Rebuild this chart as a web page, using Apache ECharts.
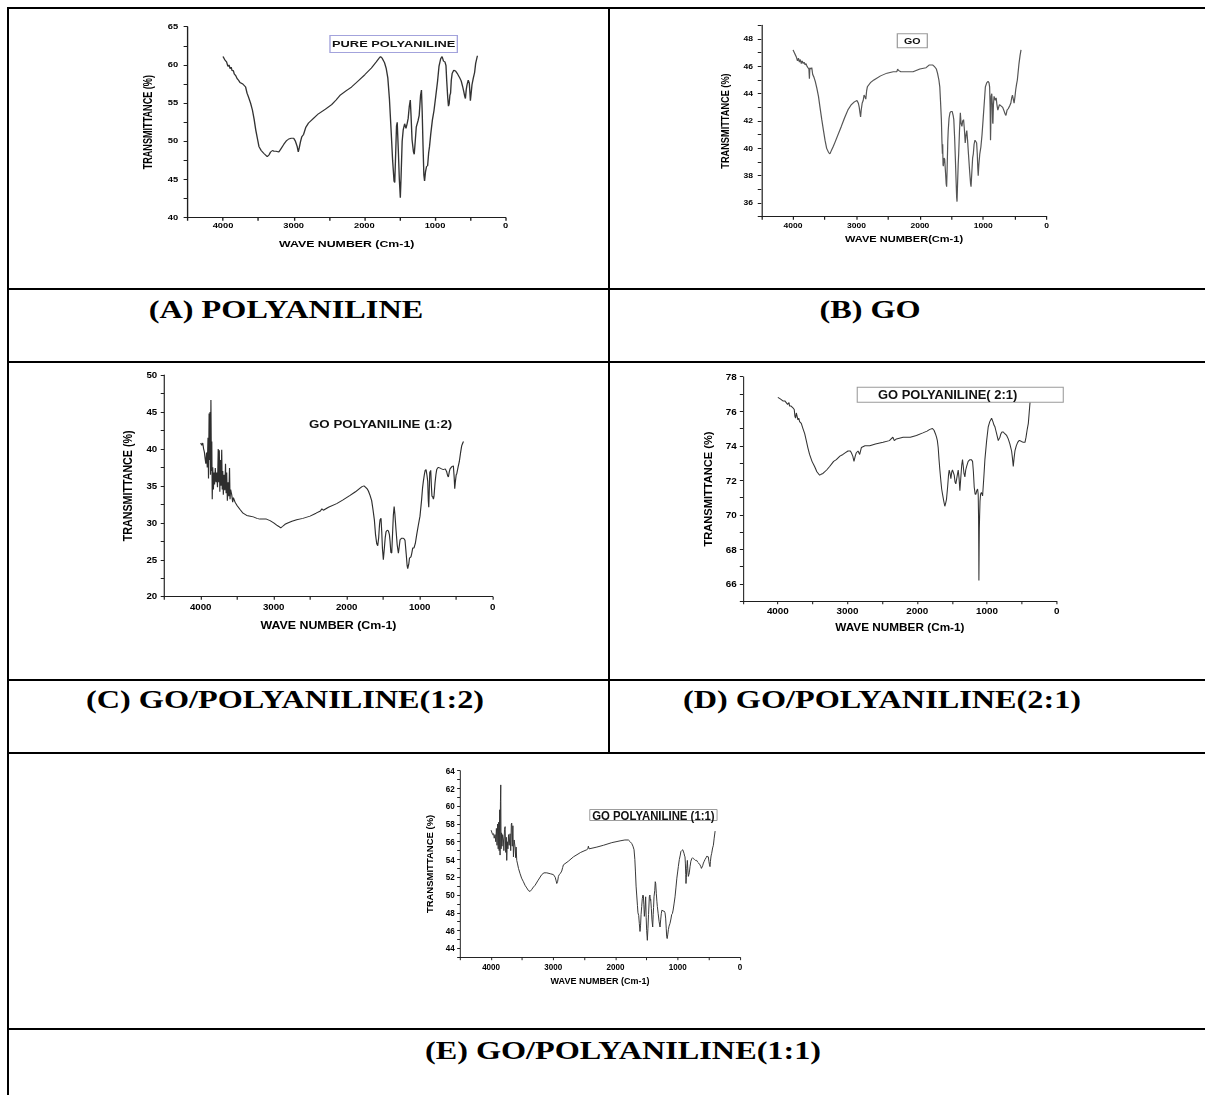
<!DOCTYPE html>
<html>
<head>
<meta charset="utf-8">
<title>FTIR spectra of polyaniline, GO and GO/polyaniline composites</title>
<script src="https://cdn.jsdelivr.net/npm/echarts@6/dist/echarts.min.js"></script>
<style>
  html, body { margin: 0; padding: 0; background: #fff; }
  #page { position: relative; width: 1205px; height: 1095px; overflow: hidden; background: #fff; }
  .rule { position: absolute; background: #000; }
  .cap {
    position: absolute; white-space: nowrap; line-height: 1; color: #000;
    font-family: "Liberation Serif", "Times New Roman", serif; font-weight: bold; font-size: 26px;
    transform: translate(-50%, -50%) scaleX(1.24);
  }
  .plot { position: absolute; transform-origin: 0 0; filter: blur(0.35px); }
</style>
</head>
<body>
<div id="page">
  <!-- table rules -->
  <div class="rule" style="left:7px;top:7px;width:1198px;height:2px"></div>
  <div class="rule" style="left:7px;top:7px;width:2px;height:1088px"></div>
  <div class="rule" style="left:608px;top:7px;width:2px;height:746px"></div>
  <div class="rule" style="left:7px;top:288px;width:1198px;height:2px"></div>
  <div class="rule" style="left:7px;top:361px;width:1198px;height:2px"></div>
  <div class="rule" style="left:7px;top:679px;width:1198px;height:2px"></div>
  <div class="rule" style="left:7px;top:752px;width:1198px;height:2px"></div>
  <div class="rule" style="left:7px;top:1028px;width:1198px;height:2px"></div>

  <!-- captions -->
  <div class="cap" style="left:286px;top:310px">(A) POLYANILINE</div>
  <div class="cap" style="left:870px;top:310px">(B) GO</div>
  <div class="cap" style="left:285px;top:700px">(C) GO/POLYANILINE(1:2)</div>
  <div class="cap" style="left:882px;top:700px">(D) GO/POLYANILINE(2:1)</div>
  <div class="cap" style="left:623px;top:1051px">(E) GO/POLYANILINE(1:1)</div>

  <div class="plot" id="pA"></div>
  <div class="plot" id="pB"></div>
  <div class="plot" id="pC"></div>
  <div class="plot" id="pD"></div>
  <div class="plot" id="pE"></div>
</div>

<script>
// Wave number axis (cm-1), shared by all spectra
const waveRange = [0, 4500];
const waveTickLabels = [4000, 3000, 2000, 1000, 0];

// Transmittance (%) ranges and labelled ticks of each panel
const rangeA = [40, 65];  const ticksA = [40, 45, 50, 55, 60, 65];
const rangeB = [35, 49];  const ticksB = [36, 38, 40, 42, 44, 46, 48];
const rangeC = [20, 50];  const ticksC = [20, 25, 30, 35, 40, 45, 50];
const rangeD = [65, 78];  const ticksD = [66, 68, 70, 72, 74, 76, 78];
const rangeE = [43, 64];  const ticksE = [44, 46, 48, 50, 52, 54, 56, 58, 60, 62, 64];

// Spectra: [wave number, transmittance %]
const purePani = [
  [4000,61.1],[3970,60.6],[3950,60.4],[3930,59.8],[3915,60.0],[3900,59.5],[3885,59.7],[3870,59.2],
  [3855,59.3],[3840,58.8],[3820,58.6],[3800,58.2],[3780,58.0],[3760,57.7],[3740,57.6],[3720,57.5],
  [3700,57.3],[3680,57.1],[3660,56.3],[3640,55.8],[3610,55.0],[3584,54.1],[3560,52.9],[3537,51.5],
  [3510,50.2],[3491,49.3],[3460,48.8],[3421,48.4],[3374,48.0],[3350,48.2],[3327,48.6],[3300,48.8],
  [3280,48.7],[3250,48.7],[3210,48.6],[3175,49.1],[3140,49.6],[3100,50.1],[3070,50.3],[3035,50.4],
  [3000,50.4],[2975,50.0],[2950,49.3],[2935,48.6],[2920,49.2],[2905,49.9],[2885,50.6],[2860,50.9],
  [2830,51.8],[2790,52.4],[2720,53.0],[2650,53.6],[2550,54.2],[2463,54.8],[2400,55.4],[2346,56.0],
  [2260,56.6],[2182,57.1],[2100,57.8],[1995,58.7],[1900,59.6],[1830,60.4],[1790,60.9],[1771,61.1],
  [1750,60.9],[1715,60.3],[1690,59.5],[1668,58.3],[1645,55.5],[1622,51.5],[1600,47.5],[1580,44.8],
  [1570,44.6],[1560,47.5],[1545,52.0],[1535,52.5],[1520,49.0],[1505,45.0],[1491,42.6],[1480,45.5],
  [1465,50.0],[1450,51.5],[1430,52.3],[1411,51.7],[1395,52.3],[1380,53.0],[1365,54.5],[1350,55.4],
  [1340,53.5],[1325,50.2],[1305,48.6],[1294,48.3],[1280,50.0],[1265,51.9],[1240,52.7],[1224,53.4],
  [1205,56.0],[1192,56.7],[1182,54.0],[1170,49.5],[1158,45.6],[1148,44.8],[1135,46.0],[1120,46.7],
  [1105,46.8],[1090,48.5],[1078,49.3],[1060,51.0],[1037,52.8],[1015,54.0],[991,55.8],[965,57.8],
  [944,59.8],[920,60.8],[900,61.1],[880,60.5],[860,60.4],[845,59.9],[835,58.0],[820,55.7],
  [810,54.6],[800,54.9],[790,56.0],[780,56.3],[770,58.0],[757,58.9],[735,59.3],[710,59.2],
  [680,58.8],[650,58.3],[630,57.9],[610,57.2],[593,56.5],[580,55.9],[570,55.6],[558,56.8],
  [547,57.4],[530,58.0],[515,57.6],[505,56.2],[500,55.3],[492,56.0],[477,57.4],[460,58.2],
  [440,59.0],[425,60.2],[410,60.8],[400,61.2]
];

const grapheneOxide = [
  [4000,47.2],[3970,46.9],[3950,46.7],[3930,46.4],[3915,46.6],[3900,46.3],[3885,46.5],[3870,46.2],
  [3855,46.4],[3840,46.2],[3825,46.3],[3810,46.1],[3795,46.2],[3780,46.0],[3765,45.9],[3750,45.8],
  [3742,45.1],[3735,45.9],[3720,45.8],[3705,45.9],[3690,45.4],[3670,45.2],[3650,44.9],[3625,44.4],
  [3599,43.8],[3575,43.0],[3547,42.1],[3520,41.3],[3496,40.6],[3470,40.0],[3440,39.7],[3419,39.6],
  [3400,39.8],[3370,40.1],[3342,40.4],[3300,40.9],[3239,41.6],[3190,42.2],[3136,42.8],[3080,43.2],
  [3033,43.4],[2992,43.5],[2970,43.3],[2956,43.0],[2945,42.6],[2935,42.3],[2925,42.8],[2910,43.3],
  [2894,43.5],[2880,43.9],[2869,43.8],[2853,43.6],[2840,44.2],[2828,44.5],[2780,44.8],[2725,45.0],
  [2620,45.3],[2519,45.5],[2420,45.6],[2365,45.6],[2350,45.8],[2339,45.7],[2300,45.6],[2200,45.6],
  [2108,45.6],[2000,45.8],[1902,45.9],[1850,46.1],[1800,46.1],[1774,46.0],[1740,45.8],[1722,45.5],
  [1700,45.0],[1686,44.5],[1675,43.5],[1661,42.1],[1652,40.5],[1645,39.6],[1640,40.3],[1635,38.8],
  [1630,38.7],[1620,39.3],[1609,39.2],[1595,38.2],[1585,37.4],[1578,37.2],[1570,38.5],[1560,40.5],
  [1553,41.3],[1540,42.2],[1525,42.6],[1510,42.7],[1491,42.7],[1475,42.4],[1465,42.1],[1452,40.8],
  [1440,39.2],[1428,37.5],[1420,36.4],[1414,36.1],[1405,37.5],[1396,38.8],[1388,39.6],[1375,41.3],
  [1362,42.6],[1350,41.8],[1337,41.6],[1325,42.0],[1311,42.1],[1298,41.4],[1285,40.4],[1272,41.0],
  [1260,41.3],[1248,40.6],[1234,39.6],[1215,38.3],[1200,37.4],[1193,37.2],[1180,38.3],[1168,39.3],
  [1157,39.6],[1145,40.3],[1131,40.6],[1118,40.5],[1105,40.4],[1095,39.6],[1086,38.5],[1080,38.0],
  [1070,38.8],[1055,39.6],[1038,40.1],[1020,41.0],[1003,42.1],[985,43.3],[967,44.5],[945,44.8],
  [925,44.9],[910,44.8],[900,44.5],[892,43.0],[886,40.6],[882,41.5],[876,43.8],[866,44.0],
  [858,43.2],[852,41.9],[848,41.8],[840,43.2],[830,43.8],[822,43.8],[810,43.5],[797,43.7],
  [785,43.2],[771,42.8],[758,43.0],[745,43.2],[720,43.1],[694,43.0],[670,42.7],[655,42.5],
  [643,42.4],[625,42.8],[607,42.9],[585,43.1],[566,43.3],[552,43.7],[540,43.9],[527,43.6],
  [514,43.3],[500,43.8],[488,44.3],[475,44.7],[463,45.0],[450,45.6],[437,46.2],[420,46.8],[405,47.2]
];

const goPani12 = [
  [4000,40.8],[3985,40.5],[3972,40.8],[3960,40.0],[3950,39.6],[3941,38.8],[3930,38.0],[3920,39.5],
  [3910,37.5],[3900,41.5],[3893,36.0],[3885,44.8],[3878,38.5],[3872,45.0],[3866,36.5],[3860,46.6],
  [3853,37.0],[3848,41.0],[3842,33.2],[3835,37.5],[3826,34.5],[3818,36.8],[3810,35.2],[3800,37.4],
  [3790,35.5],[3780,36.8],[3770,34.8],[3760,40.0],[3752,35.5],[3745,39.8],[3738,34.2],[3730,38.5],
  [3722,35.0],[3712,39.9],[3705,34.5],[3698,37.0],[3690,33.8],[3680,36.5],[3670,34.4],[3660,38.0],
  [3652,34.0],[3644,36.8],[3635,33.0],[3625,35.5],[3615,33.6],[3605,37.4],[3598,33.2],[3590,34.5],
  [3575,33.8],[3562,32.8],[3552,33.4],[3530,32.8],[3500,32.3],[3461,31.8],[3420,31.3],[3370,31.0],
  [3320,30.9],[3279,30.8],[3230,30.6],[3190,30.5],[3141,30.5],[3100,30.5],[3050,30.3],[3000,30.0],
  [2959,29.7],[2930,29.5],[2904,29.3],[2880,29.5],[2845,29.8],[2800,30.0],[2750,30.2],[2685,30.4],
  [2600,30.6],[2502,30.9],[2420,31.3],[2360,31.6],[2340,31.9],[2320,31.7],[2250,32.1],[2137,32.6],
  [2050,33.1],[1954,33.7],[1880,34.2],[1817,34.7],[1790,34.9],[1763,35.0],[1740,34.8],[1720,34.6],
  [1703,34.3],[1680,33.7],[1658,33.0],[1640,31.8],[1621,30.4],[1605,28.4],[1589,27.2],[1575,26.9],
  [1562,28.0],[1550,29.8],[1543,30.4],[1530,30.6],[1520,28.8],[1510,26.5],[1498,25.0],[1485,26.5],
  [1472,28.0],[1461,28.8],[1445,29.0],[1429,28.9],[1415,28.4],[1406,27.5],[1395,26.0],[1383,25.9],
  [1372,28.5],[1361,31.0],[1350,32.2],[1340,31.2],[1324,29.0],[1308,27.0],[1292,25.9],[1280,26.8],
  [1269,27.7],[1250,27.9],[1224,27.9],[1210,27.8],[1201,27.6],[1185,25.8],[1172,24.2],[1164,23.8],
  [1150,24.4],[1140,25.2],[1132,25.3],[1120,25.4],[1110,25.8],[1095,26.6],[1078,26.6],[1060,27.2],
  [1041,28.4],[1020,29.6],[996,30.9],[975,33.0],[960,34.8],[950,35.6],[935,36.6],[925,37.1],
  [913,37.2],[900,36.4],[890,35.6],[882,33.0],[876,32.1],[870,34.0],[862,36.8],[849,37.1],
  [840,35.0],[832,33.6],[822,33.5],[812,33.2],[804,33.6],[790,35.4],[778,36.5],[767,37.2],
  [755,37.4],[744,37.5],[720,37.4],[700,37.3],[676,37.2],[650,37.3],[630,36.9],[618,36.4],
  [607,36.2],[595,36.9],[584,37.3],[560,37.6],[539,37.7],[528,36.2],[520,34.6],[512,35.5],
  [500,36.5],[493,36.6],[475,37.5],[457,38.3],[440,39.5],[425,40.4],[410,40.8],[400,41.0]
];

const goPani21 = [
  [4000,76.8],[3960,76.7],[3928,76.6],[3900,76.6],[3880,76.5],[3860,76.4],[3840,76.5],[3832,76.3],
  [3810,76.3],[3784,76.2],[3765,76.1],[3755,75.7],[3746,75.6],[3735,75.9],[3712,75.5],[3700,75.6],
  [3688,75.4],[3664,75.3],[3640,75.0],[3615,74.7],[3592,74.3],[3570,73.9],[3545,73.5],[3510,73.1],
  [3473,72.8],[3440,72.5],[3401,72.3],[3380,72.35],[3353,72.4],[3300,72.6],[3257,72.8],[3200,73.1],
  [3161,73.2],[3110,73.4],[3066,73.5],[3030,73.6],[2994,73.7],[2960,73.7],[2946,73.6],[2925,73.4],
  [2908,73.1],[2890,73.4],[2874,73.6],[2850,73.7],[2826,73.5],[2802,73.9],[2750,74.0],[2682,74.0],
  [2600,74.1],[2491,74.2],[2400,74.3],[2350,74.5],[2330,74.3],[2299,74.4],[2203,74.5],[2100,74.5],
  [2012,74.6],[1920,74.75],[1860,74.85],[1820,74.95],[1782,75.0],[1760,74.9],[1740,74.7],[1724,74.5],
  [1712,74.3],[1700,73.9],[1688,73.2],[1676,72.6],[1660,71.9],[1650,71.5],[1638,71.2],[1620,70.8],
  [1605,70.5],[1592,70.7],[1581,70.9],[1565,71.6],[1552,72.3],[1542,72.6],[1530,72.4],[1518,72.1],
  [1505,72.5],[1495,72.6],[1485,72.6],[1470,72.3],[1458,71.9],[1447,71.8],[1430,72.2],[1413,72.6],
  [1400,72.1],[1389,71.4],[1375,72.2],[1362,72.9],[1351,73.2],[1340,72.8],[1330,72.4],[1317,72.2],
  [1305,72.6],[1293,72.8],[1270,73.1],[1245,73.2],[1225,73.2],[1207,73.1],[1195,72.5],[1183,71.6],
  [1170,71.2],[1159,71.2],[1147,71.4],[1135,71.5],[1126,71.2],[1121,69.9],[1118,68.0],[1116,66.2],
  [1113,67.8],[1110,69.2],[1106,69.9],[1100,70.8],[1092,71.2],[1080,71.3],[1063,71.1],[1045,72.2],
  [1030,73.2],[1005,74.3],[982,75.1],[960,75.4],[934,75.6],[915,75.4],[900,75.2],[886,75.1],
  [874,74.9],[862,74.7],[850,74.5],[838,74.3],[826,74.4],[814,74.5],[800,74.7],[785,74.8],
  [766,74.8],[745,74.7],[718,74.6],[695,74.4],[671,74.1],[659,73.9],[647,73.7],[635,73.3],
  [623,72.8],[611,73.3],[599,73.7],[580,74.0],[560,74.2],[540,74.3],[527,74.3],[505,74.25],
  [479,74.2],[455,74.2],[440,74.5],[425,74.9],[407,75.3],[395,75.9],[385,76.4],[375,76.8]
];

const goPani11 = [
  [4000,57.3],[3990,57.1],[3975,56.8],[3960,56.9],[3950,56.4],[3936,56.8],[3925,56.0],[3915,57.5],
  [3905,55.6],[3895,58.0],[3886,55.2],[3878,58.2],[3870,55.0],[3862,59.6],[3856,54.5],[3850,60.5],
  [3845,62.4],[3840,55.2],[3832,57.0],[3825,55.5],[3815,56.8],[3802,56.2],[3795,55.0],[3785,57.4],
  [3775,57.7],[3765,54.8],[3755,56.5],[3749,53.9],[3740,56.0],[3730,55.2],[3720,56.8],[3710,55.6],
  [3695,56.9],[3685,55.0],[3675,58.0],[3668,58.1],[3660,55.5],[3650,57.8],[3641,54.3],[3630,56.2],
  [3615,55.4],[3605,54.2],[3598,55.4],[3588,53.9],[3575,53.5],[3560,53.0],[3534,52.4],[3510,51.9],
  [3481,51.5],[3455,51.1],[3427,50.8],[3400,50.5],[3374,50.4],[3350,50.6],[3320,50.9],[3293,51.1],
  [3250,51.6],[3186,52.3],[3150,52.5],[3106,52.5],[3050,52.4],[2999,52.3],[2970,52.0],[2955,51.6],
  [2945,51.3],[2932,51.5],[2918,52.1],[2905,52.3],[2890,52.4],[2865,52.7],[2850,53.1],[2838,53.4],
  [2760,53.8],[2677,54.3],[2560,54.8],[2463,55.1],[2445,55.2],[2437,55.5],[2425,55.2],[2300,55.4],
  [2196,55.6],[2060,55.9],[1928,56.1],[1850,56.2],[1794,56.2],[1765,56.0],[1740,55.8],[1720,55.5],
  [1703,55.1],[1690,54.0],[1680,52.6],[1670,51.0],[1660,50.0],[1648,48.8],[1640,48.0],[1628,47.7],
  [1618,46.8],[1607,45.9],[1598,46.6],[1590,47.8],[1580,48.7],[1570,49.6],[1560,50.0],[1553,49.9],
  [1545,48.9],[1537,47.6],[1527,48.4],[1516,49.8],[1508,47.5],[1500,46.0],[1489,44.9],[1480,46.2],
  [1470,47.8],[1457,49.8],[1448,50.0],[1440,49.4],[1435,49.5],[1425,48.5],[1415,47.2],[1403,46.4],
  [1395,47.8],[1389,48.6],[1382,49.8],[1370,50.5],[1362,51.5],[1355,51.3],[1345,50.2],[1336,49.3],
  [1328,48.7],[1315,47.9],[1300,47.0],[1285,46.4],[1275,47.2],[1265,47.9],[1255,48.3],[1248,48.3],
  [1235,48.2],[1220,48.2],[1205,48.0],[1195,47.4],[1185,46.2],[1178,45.3],[1170,45.1],[1160,45.6],
  [1151,46.1],[1140,46.5],[1125,46.8],[1110,47.3],[1098,47.8],[1087,47.9],[1075,48.3],[1060,49.0],
  [1044,49.8],[1030,50.8],[1015,51.9],[1000,52.7],[991,53.2],[975,54.0],[960,54.5],[950,54.9],
  [937,55.0],[920,55.1],[910,55.1],[900,54.7],[890,54.4],[884,54.3],[878,53.6],[872,52.3],
  [868,51.3],[862,52.0],[856,53.0],[846,53.9],[838,52.8],[830,52.1],[822,52.3],[815,52.5],
  [803,53.2],[790,53.8],[775,54.1],[762,54.2],[750,54.1],[730,54.0],[715,53.9],[696,53.9],
  [680,53.7],[665,53.6],[655,53.5],[643,53.4],[630,53.2],[620,53.0],[611,53.0],[600,53.3],
  [588,53.6],[575,53.8],[562,54.0],[545,54.2],[530,54.4],[520,54.3],[509,54.3],[500,53.8],
  [490,53.4],[482,53.2],[475,53.8],[465,54.4],[455,54.7],[440,55.3],[428,55.6],[415,56.4],[400,57.2]
];

const FONT = '"Liberation Sans", Arial, Helvetica, sans-serif';

// Each spectrum sits in its own box; the drawing is stretched sideways by `stretch`.
function drawPanel(p) {
  const el = document.getElementById(p.id);
  const s = p.stretch;
  const w = p.box[2] / s, h = p.box[3];
  el.style.left = p.box[0] + 'px';
  el.style.top = p.box[1] + 'px';
  el.style.width = w + 'px';
  el.style.height = h + 'px';
  el.style.transform = 'scaleX(' + s + ')';

  const gx = (p.plot[0] - p.box[0]) / s;
  const gw = (p.plot[1] - p.plot[0]) / s;
  const gy = p.plot[2] - p.box[1];
  const gh = p.plot[3] - p.plot[2];
  const majorY = p.yTicks[1] - p.yTicks[0];

  const axisColor = '#1e1e1e';
  const textColor = '#000';
  const chart = echarts.init(el, null, { renderer: 'svg', width: w, height: h });
  chart.setOption({
    animation: false,
    title: {
      text: p.key.text,
      left: (p.key.x - p.box[0]) / s,
      top: p.key.y - p.box[1],
      padding: p.key.padding,
      borderColor: p.key.border || 'transparent',
      borderWidth: p.key.border ? 1 : 0,
      backgroundColor: p.key.border ? '#fff' : 'transparent',
      textStyle: { fontFamily: FONT, fontWeight: 'bold', fontSize: p.key.size, color: '#111' }
    },
    grid: { left: gx, top: gy, width: gw, height: gh, containLabel: false },
    xAxis: {
      type: 'value', inverse: true,
      min: waveRange[0], max: waveRange[1], interval: 500,
      name: p.xName, nameLocation: 'middle', nameGap: p.xGap,
      nameTextStyle: { fontFamily: FONT, fontWeight: 'bold', fontSize: p.titleSize, color: textColor },
      axisLine: { show: true, onZero: false, lineStyle: { color: axisColor, width: 1 } },
      axisTick: { show: true, inside: false, length: 3, lineStyle: { color: axisColor, width: 1 } },
      axisLabel: {
        margin: p.xMargin, fontFamily: FONT, fontWeight: 'bold', fontSize: p.tickSize, color: textColor,
        formatter: v => (waveTickLabels.indexOf(v) >= 0 ? String(v) : '')
      },
      splitLine: { show: false }
    },
    yAxis: {
      type: 'value',
      min: p.yRange[0], max: p.yRange[1], interval: majorY / 2,
      name: 'TRANSMITTANCE (%)', nameLocation: 'middle', nameGap: p.yGap, nameRotate: 90,
      nameTextStyle: { fontFamily: FONT, fontWeight: 'bold', fontSize: p.titleSize, color: textColor },
      axisLine: { show: true, onZero: false, lineStyle: { color: axisColor, width: 1 } },
      axisTick: { show: true, inside: false, length: 3, lineStyle: { color: axisColor, width: 1 } },
      axisLabel: {
        margin: p.yMargin, fontFamily: FONT, fontWeight: 'bold', fontSize: p.tickSize, color: textColor,
        formatter: v => (p.yTicks.indexOf(v) >= 0 ? String(v) : '')
      },
      splitLine: { show: false }
    },
    series: [{
      type: 'line', data: p.data, showSymbol: false, symbol: 'none', silent: true,
      lineStyle: { color: p.color, width: 1 }
    }]
  });
}

drawPanel({
  id: 'pA', box: [130, 15, 400, 245], stretch: 1.355, plot: [184.5, 505.7, 26.7, 217.7],
  yRange: rangeA, yTicks: ticksA, data: purePani, color: '#333333',
  xName: 'WAVE NUMBER (Cm-1)', tickSize: 6.9, titleSize: 9.1, xMargin: 5, xGap: 21, yMargin: 7, yGap: 20,
  key: { text: 'PURE POLYANILINE', x: 329.3, y: 35, size: 9.5, padding: [4, 2], border: '#a3a3dc' }
});

drawPanel({
  id: 'pB', box: [710, 15, 360, 245], stretch: 1.2, plot: [755, 1046.7, 25.3, 216.7],
  yRange: rangeB, yTicks: ticksB, data: grapheneOxide, color: '#555555',
  xName: 'WAVE NUMBER(Cm-1)', tickSize: 7.1, titleSize: 9.2, xMargin: 6, xGap: 17, yMargin: 7, yGap: 20.5,
  key: { text: 'GO', x: 896.7, y: 33.3, size: 8.9, padding: [3, 6], border: '#9a9a9a' }
});

drawPanel({
  id: 'pC', box: [100, 365, 420, 285], stretch: 1.158, plot: [164.2, 492.7, 375, 596.7],
  yRange: rangeC, yTicks: ticksC, data: goPani12, color: '#2e2e2e',
  xName: 'WAVE NUMBER (Cm-1)', tickSize: 8.4, titleSize: 10.7, xMargin: 7, xGap: 23, yMargin: 6, yGap: 22.5,
  key: { text: 'GO POLYANILINE (1:2)', x: 309, y: 418, size: 11.5, padding: 0 }
});

drawPanel({
  id: 'pD', box: [690, 365, 400, 285], stretch: 1.062, plot: [743, 1056.7, 376.7, 601.3],
  yRange: rangeD, yTicks: ticksD, data: goPani21, color: '#333333',
  xName: 'WAVE NUMBER (Cm-1)', tickSize: 9.3, titleSize: 11.1, xMargin: 5, xGap: 20, yMargin: 6, yGap: 25,
  key: { text: 'GO POLYANILINE( 2:1)', x: 856.7, y: 386.7, size: 12.2, padding: [2, 44, 2, 20], border: '#9a9a9a' }
});

drawPanel({
  id: 'pE', box: [400, 755, 360, 245], stretch: 0.95, plot: [460, 740, 770.7, 957.2],
  yRange: rangeE, yTicks: ticksE, data: goPani11, color: '#333333',
  xName: 'WAVE NUMBER (Cm-1)', tickSize: 8.5, titleSize: 9.5, xMargin: 5, xGap: 17, yMargin: 5.5, yGap: 26.5,
  key: { text: 'GO POLYANILINE (1:1)', x: 589.3, y: 809, size: 12, padding: [0, 3], border: '#9a9a9a' }
});
</script>
</body>
</html>
